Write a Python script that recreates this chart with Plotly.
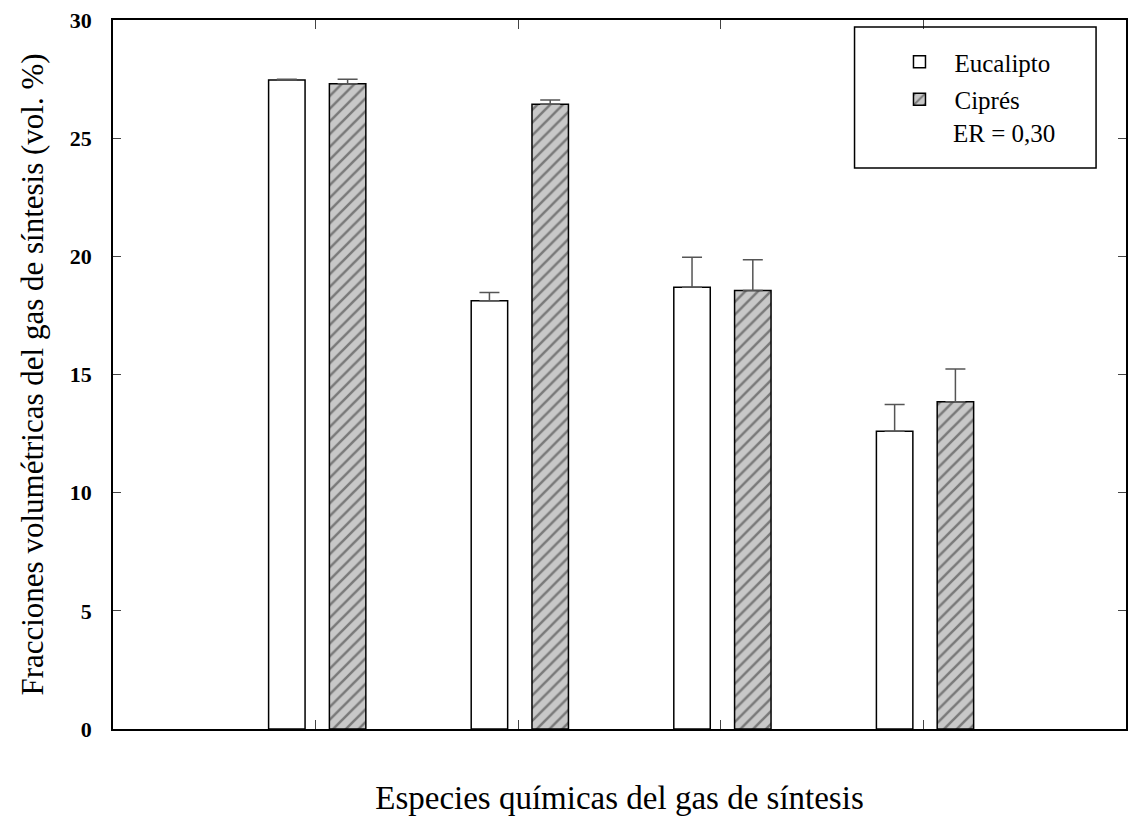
import plotly.graph_objects as go

species_pos = [1, 2, 3, 4]
eucalipto = [27.46, 18.12, 18.69, 12.60]
eucalipto_err = [0.03, 0.35, 1.27, 1.13]
cipres = [27.30, 26.44, 18.55, 13.85]
cipres_err = [0.19, 0.17, 1.31, 1.38]
y_ticks = [0, 5, 10, 15, 20, 25, 30]

serif = "Liberation Serif"
L, R, T, B = 113, 5, 20, 89
W, H = 1133, 818
pw, ph = W - L - R, H - T - B

def px_x(p):
    return (p - L) / pw

def px_y(p):
    return (H - B - p) / ph

fig = go.Figure()
fig.add_trace(go.Bar(
    x=species_pos, y=eucalipto, name="Eucalipto", legendgroup="a",
    width=0.18, offset=-0.232,
    marker=dict(color="white", line=dict(color="black", width=1.5)),
    error_y=dict(type="data", array=eucalipto_err, arrayminus=[0]*4, symmetric=False,
                 color="#555555", thickness=1.5, width=10),
))
fig.add_trace(go.Bar(
    x=species_pos, y=cipres, name="Ciprés", legendgroup="b",
    width=0.18, offset=0.068,
    marker=dict(color="#c8c8c8", line=dict(color="black", width=1.5),
                pattern=dict(shape="/", fgcolor="#2a2a2a", bgcolor="#c8c8c8",
                             size=9, solidity=0.28)),
    error_y=dict(type="data", array=cipres_err, arrayminus=[0]*4, symmetric=False,
                 color="#555555", thickness=1.5, width=10),
))

fig.add_shape(type="rect", xref="paper", yref="paper",
              x0=px_x(856), x1=px_x(1098), y0=px_y(168), y1=px_y(27),
              line=dict(color="black", width=1.5), fillcolor="rgba(0,0,0,0)")
fig.add_annotation(text="ER = 0,30", xref="paper", yref="paper",
                   x=px_x(953), y=px_y(133), xanchor="left", yanchor="middle",
                   showarrow=False, font=dict(family=serif, size=25, color="black"))

fig.update_layout(
    width=W, height=H,
    margin=dict(l=L, r=R, t=T, b=B),
    plot_bgcolor="white", paper_bgcolor="white",
    showlegend=True,
    legend=dict(x=px_x(886), y=px_y(39), xanchor="left", yanchor="top",
                bgcolor="rgba(0,0,0,0)", borderwidth=0,
                font=dict(family=serif, size=25, color="black"),
                itemwidth=60, tracegroupgap=2, traceorder="grouped"),
    xaxis=dict(range=[0, 5], tickvals=species_pos, showticklabels=False,
               ticks="inside", ticklen=9, tickcolor="#444", tickwidth=1,
               showline=True, linecolor="black", linewidth=1.5, mirror="ticks",
               showgrid=False, zeroline=False,
               title=dict(text="Especies químicas del gas de síntesis", standoff=56,
                          font=dict(family=serif, size=33, color="black"))),
    yaxis=dict(range=[0, 30], tickvals=y_ticks,
               ticks="inside", ticklen=8, tickcolor="#444", tickwidth=1,
               showline=True, linecolor="black", linewidth=1.5, mirror="ticks",
               showgrid=False, zeroline=False, ticklabelstandoff=15,
               tickfont=dict(family=serif, size=22, color="black", weight="bold"),
               title=dict(text="Fracciones volumétricas del gas de síntesis (vol. %)",
                          standoff=17,
                          font=dict(family=serif, size=31, color="black"))),
)

fig.write_html("out.html")
